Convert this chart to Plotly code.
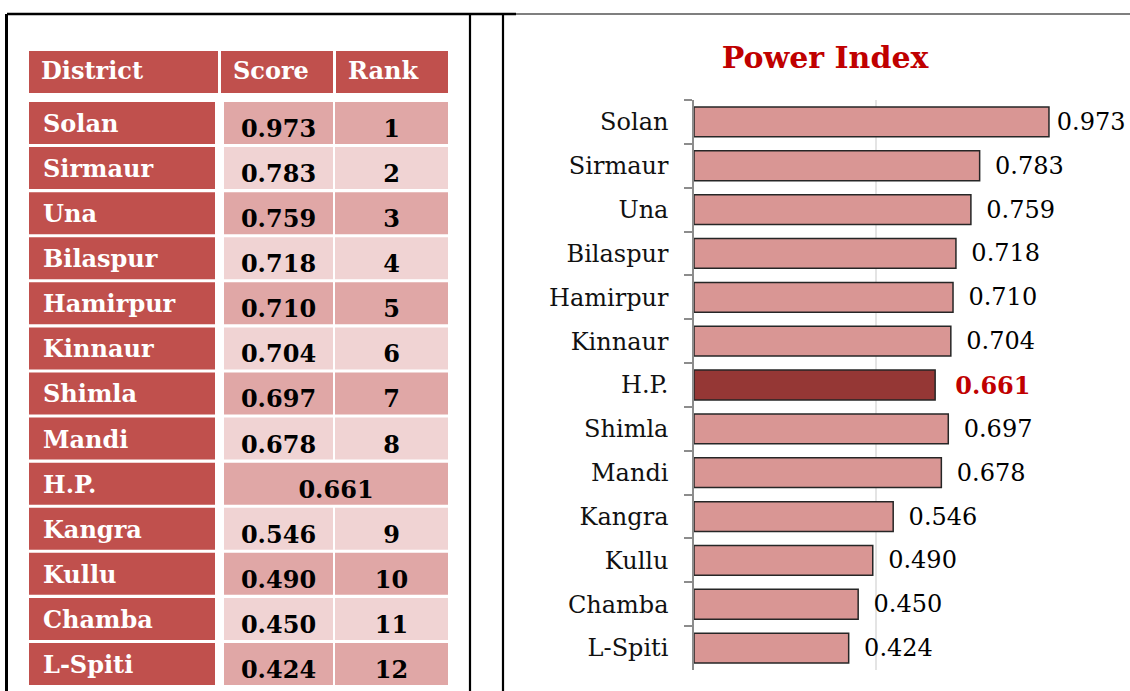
import plotly.graph_objects as go

# ---------------- data ----------------
table_header = ["District", "Score", "Rank"]
table_districts = ["Solan", "Sirmaur", "Una", "Bilaspur", "Hamirpur", "Kinnaur", "Shimla",
                   "Mandi", "H.P.", "Kangra", "Kullu", "Chamba", "L-Spiti"]
table_scores = [0.973, 0.783, 0.759, 0.718, 0.710, 0.704, 0.697, 0.678, 0.661, 0.546, 0.490, 0.450, 0.424]
table_ranks = ["1", "2", "3", "4", "5", "6", "7", "8", "", "9", "10", "11", "12"]

chart_title = "Power Index"
chart_districts = ["Solan", "Sirmaur", "Una", "Bilaspur", "Hamirpur", "Kinnaur", "H.P.",
                   "Shimla", "Mandi", "Kangra", "Kullu", "Chamba", "L-Spiti"]
chart_scores = [0.973, 0.783, 0.759, 0.718, 0.710, 0.704, 0.661, 0.697, 0.678, 0.546, 0.490, 0.450, 0.424]
highlight = "H.P."

# ---------------- layout constants ----------------
W, H = 1130, 691
DARK = "#C0504D"
MID = "#E0A7A6"
LIGHT = "#F0D3D3"
BAR = "#D99694"
BAR_HI = "#953735"
RED_TXT = "#C00000"
SERIF = "DejaVu Serif"

HEAD_TOP, HEAD_H = 51, 42
ROW_TOP, ROW_PITCH, ROW_H = 102, 45.08, 42
HEAD_COLS = [(29, 218), (221, 333), (336, 448)]
DATA_COLS = [(29, 215), (224, 333), (335, 448)]
PAD = 12

fig = go.Figure()
shapes = []

def cell(x0, x1, y0, y1, color):
    shapes.append(dict(type="rect", xref="x2", yref="y2", x0=x0, x1=x1, y0=y0, y1=y1,
                       fillcolor=color, line=dict(width=0), layer="below"))

# header cells
for (c0, c1) in HEAD_COLS:
    cell(c0, c1, HEAD_TOP, HEAD_TOP + HEAD_H, DARK)

row_y = []
score_x, rank_x, rank_txt, score_txt, score_y, rank_y = [], [], [], [], [], []
for i, (d, s, r) in enumerate(zip(table_districts, table_scores, table_ranks)):
    y0 = ROW_TOP + i * ROW_PITCH
    y1 = y0 + ROW_H
    yc = (y0 + y1) / 2
    row_y.append(yc)
    fill = MID if i % 2 == 0 else LIGHT
    cell(DATA_COLS[0][0], DATA_COLS[0][1], y0, y1, DARK)
    if r == "":
        cell(DATA_COLS[1][0], DATA_COLS[2][1], y0, y1, fill)
        score_x.append((DATA_COLS[1][0] + DATA_COLS[2][1]) / 2)
    else:
        cell(DATA_COLS[1][0], DATA_COLS[1][1], y0, y1, fill)
        cell(DATA_COLS[2][0], DATA_COLS[2][1], y0, y1, fill)
        score_x.append((DATA_COLS[1][0] + DATA_COLS[1][1]) / 2)
        rank_x.append((DATA_COLS[2][0] + DATA_COLS[2][1]) / 2)
        rank_txt.append(r)
        rank_y.append(yc + 8)
    score_txt.append(f"{s:.3f}")
    score_y.append(yc + 8)

# header text
fig.add_trace(go.Scatter(
    x=[c0 + PAD for c0, _ in HEAD_COLS], y=[HEAD_TOP + HEAD_H / 2 + 1] * 3,
    text=table_header, mode="text", textposition="middle right",
    textfont=dict(family=SERIF, size=24, color="white", weight="bold"),
    xaxis="x2", yaxis="y2", hoverinfo="skip", showlegend=False, cliponaxis=False))
# district names
fig.add_trace(go.Scatter(
    x=[DATA_COLS[0][0] + PAD + 2] * len(table_districts), y=[y + 3 for y in row_y],
    text=table_districts, mode="text", textposition="middle right",
    textfont=dict(family=SERIF, size=24, color="white", weight="bold"),
    xaxis="x2", yaxis="y2", hoverinfo="skip", showlegend=False, cliponaxis=False))
# scores
fig.add_trace(go.Scatter(
    x=score_x, y=score_y, text=score_txt, mode="text", textposition="middle center",
    textfont=dict(family=SERIF, size=24, color="black", weight="bold"),
    xaxis="x2", yaxis="y2", hoverinfo="skip", showlegend=False, cliponaxis=False))
# ranks
fig.add_trace(go.Scatter(
    x=rank_x, y=rank_y, text=rank_txt, mode="text", textposition="middle center",
    textfont=dict(family=SERIF, size=24, color="black", weight="bold"),
    xaxis="x2", yaxis="y2", hoverinfo="skip", showlegend=False, cliponaxis=False))

# frame lines (document borders)
def line(x0, y0, x1, y1, w):
    shapes.append(dict(type="line", xref="x2", yref="y2", x0=x0, y0=y0, x1=x1, y1=y1,
                       line=dict(color="black", width=w), layer="above"))

line(7, 14, 516, 14, 2.7)
line(516, 14, W, 14, 1.2)
line(6.5, 14, 6.5, H, 3)
line(470, 14, 470, H, 2.2)
line(503, 14, 503, H, 2.2)

# ---------------- bar chart ----------------
vmax = max(chart_scores)
def label(d, v):
    if d == highlight:
        return "\u00a0\u2009\u2009<b>%.3f</b>" % v
    if v == vmax:
        return "\u2009%.3f" % v
    return "\u00a0\u2009%.3f" % v

bar_colors = [BAR_HI if d == highlight else BAR for d in chart_districts]
bar_text = [label(d, v) for d, v in zip(chart_districts, chart_scores)]
text_colors = [RED_TXT if d == highlight else "black" for d in chart_districts]

fig.add_trace(go.Bar(
    x=chart_scores, y=chart_districts, orientation="h",
    marker=dict(color=bar_colors, line=dict(color="#262626", width=1.5)),
    width=0.68, text=bar_text, texttemplate="%{text}", textposition="outside",
    textfont=dict(family=SERIF, size=24, color=text_colors),
    constraintext="none", cliponaxis=False, showlegend=False, hoverinfo="skip",
    xaxis="x", yaxis="y"))

X0, X1 = 694, 1059
Y0, Y1 = 100, 670

fig.update_layout(
    width=W, height=H, margin=dict(l=0, r=0, t=0, b=0),
    paper_bgcolor="white", plot_bgcolor="rgba(0,0,0,0)",
    shapes=shapes,
    title=dict(text="<b>" + chart_title + "</b>", x=825 / W, xanchor="center",
               y=1 - 57 / H, yanchor="middle",
               font=dict(family=SERIF, size=30, color=RED_TXT)),
    xaxis=dict(domain=[X0 / W, X1 / W], range=[0, 1.0005], dtick=0.5, showgrid=True,
               gridcolor="#E4E4E4", gridwidth=1.5, zeroline=False, showticklabels=False,
               showline=False, anchor="y", fixedrange=True),
    yaxis=dict(domain=[1 - Y1 / H, 1 - Y0 / H], categoryorder="array",
               categoryarray=chart_districts, autorange="reversed",
               showline=True, linecolor="#8C8C8C", linewidth=1.5,
               ticks="outside", tickson="boundaries", ticklen=8, tickcolor="#8C8C8C",
               tickwidth=1.5, ticklabelstandoff=19,
               tickfont=dict(family=SERIF, size=24, color="#111111"),
               showgrid=False, anchor="x", fixedrange=True),
    xaxis2=dict(domain=[0, 1], range=[0, W], visible=False, anchor="y2", fixedrange=True),
    yaxis2=dict(domain=[0, 1], range=[H, 0], visible=False, anchor="x2", fixedrange=True),
)

fig.write_html("out.html", config={"displayModeBar": False},
               post_script="document.body.style.margin='0';document.body.style.overflow='hidden';")
